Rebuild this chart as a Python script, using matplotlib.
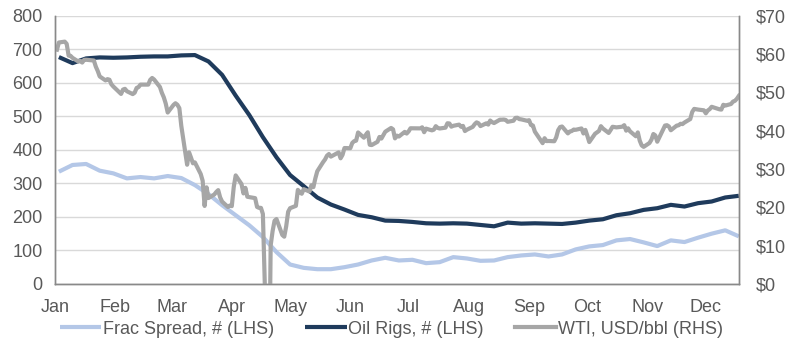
import numpy as np
import pandas as pd
import matplotlib
matplotlib.use("Agg")
import matplotlib.pyplot as plt
from matplotlib.ticker import FuncFormatter

# weekly counts (Fridays)
week_start = "2020-01-03"
n_weeks = 51
oil_rigs = [677, 659, 673, 676, 675, 676, 678, 679, 679, 682, 683, 664, 624,
            562, 504, 438, 378, 325, 292, 258, 237, 222, 206, 199, 189, 188,
            185, 181, 180, 181, 180, 176, 172, 183, 180, 181, 180, 179, 183,
            189, 193, 205, 211, 221, 226, 236, 231, 241, 246, 258, 263]
frac_spread = [335, 355, 358, 338, 330, 315, 319, 315, 322, 316, 295, 268, 235,
               205, 175, 140, 95, 58, 48, 44, 44, 50, 58, 70, 78, 70,
               72, 62, 65, 80, 76, 69, 70, 80, 85, 88, 82, 88, 103,
               112, 116, 130, 134, 124, 113, 130, 125, 138, 150, 160, 142]

# daily WTI front month, USD/bbl
wti_start, wti_end = "2020-01-02", "2020-12-18"
market_holidays = ["2020-01-20", "2020-02-17", "2020-04-10", "2020-05-25",
                   "2020-07-03", "2020-09-07", "2020-11-26"]
wti = [
    # Jan
    61.18, 63.05, 63.27, 62.70, 59.61, 59.56, 59.04, 58.08, 58.23, 57.81, 58.52,
    58.54, 58.34, 56.74, 55.59, 54.19, 53.14, 53.48, 53.33, 52.14, 51.56,
    # Feb
    50.11, 49.61, 50.75, 50.95, 50.32, 49.57, 49.94, 51.17, 51.42, 52.05,
    52.05, 53.29, 53.78, 53.38, 51.43, 49.90, 48.73, 47.09, 44.76,
    # Mar
    46.75, 47.18, 46.78, 45.90, 41.28, 31.13, 34.36, 32.98, 31.50, 31.73,
    28.70, 26.95, 20.37, 25.22, 22.43, 23.36, 24.01, 24.49, 22.60, 21.51,
    20.09, 20.48,
    # Apr
    20.31, 25.32, 28.34, 26.08, 23.63, 25.09, 22.76, 22.41, 20.11, 19.87,
    19.87, 18.27, -37.63, 10.01, 13.78, 16.50, 16.94, 12.78, 12.34, 15.06,
    18.84,
    # May
    19.78, 20.39, 24.56, 23.99, 23.55, 24.74, 24.14, 25.78, 25.29, 27.56,
    29.43, 31.82, 32.50, 33.49, 33.92, 33.25, 34.35, 32.81, 33.71, 35.49,
    # Jun
    35.44, 36.81, 37.29, 37.41, 39.55, 38.19, 38.94, 39.60, 36.34, 36.26,
    37.12, 38.38, 37.96, 38.84, 39.75, 40.73, 40.37, 38.01, 38.72, 38.49,
    39.70, 39.27,
    # Jul
    39.82, 40.65, 40.63, 40.62, 40.90, 39.62, 40.55, 40.10, 40.29, 41.20,
    40.75, 40.59, 40.81, 41.96, 41.90, 41.07, 41.29, 41.60, 41.04, 41.27,
    39.92, 40.27,
    # Aug
    41.01, 41.70, 42.19, 41.95, 41.22, 41.94, 41.61, 42.67, 42.24, 42.01,
    42.89, 42.89, 42.93, 42.82, 42.34, 42.62, 43.35, 43.39, 43.04, 42.97,
    42.61,
    # Sep
    42.76, 41.51, 41.37, 39.77, 36.76, 38.05, 37.30, 37.33, 37.26, 38.28,
    40.16, 40.97, 41.11, 39.31, 39.80, 39.93, 40.31, 40.25, 40.60, 39.29,
    40.22,
    # Oct
    38.72, 37.05, 39.22, 39.57, 39.95, 41.19, 40.60, 39.43, 40.20, 41.04,
    40.96, 40.88, 41.06, 41.46, 40.03, 40.64, 39.85, 38.56, 39.57, 37.39,
    36.17, 35.79,
    # Nov
    36.81, 37.66, 39.15, 38.79, 37.14, 40.29, 41.36, 41.45, 41.12, 40.13,
    41.34, 41.43, 41.82, 41.74, 42.15, 43.06, 44.91, 45.71, 45.53, 45.34,
    # Dec
    44.55, 45.28, 45.64, 46.26, 45.76, 45.60, 45.52, 46.78, 46.57, 46.99,
    47.62, 47.82, 48.36, 49.10,
]

month_labels = ["Jan", "Feb", "Mar", "Apr", "May", "Jun",
                "Jul", "Aug", "Sep", "Oct", "Nov", "Dec"]

weeks = pd.date_range(week_start, periods=n_weeks, freq="W-FRI")
days = pd.bdate_range(wti_start, wti_end)
days = days[~days.isin(pd.to_datetime(market_holidays))]

plt.rcParams["font.family"] = ["Liberation Sans", "DejaVu Sans"]
txt_color = "#595959"
fs = 13

fig = plt.figure(figsize=(7.86, 3.45), dpi=100)
ax = fig.add_axes([0.070, 0.177, 0.870, 0.777])
ax2 = ax.twinx()

l1, = ax.plot(weeks, frac_spread, color="#b4c7e7", lw=3, solid_capstyle="butt",
              label="Frac Spread, # (LHS)")
l2, = ax.plot(weeks, oil_rigs, color="#1f3b5c", lw=3, solid_capstyle="butt",
              label="Oil Rigs, # (LHS)")
l3, = ax2.plot(days, wti, color="#a6a6a6", lw=3, solid_joinstyle="round",
               label="WTI, USD/bbl (RHS)")

ax.set_ylim(0, 800)
ax.set_yticks(np.arange(0, 801, 100))
ax2.set_ylim(0, 70)
ax2.set_yticks(np.arange(0, 71, 10))
ax2.yaxis.set_major_formatter(FuncFormatter(lambda v, p: f"${v:.0f}"))

ax.set_xlim(pd.Timestamp("2020-01-01"), pd.Timestamp(wti_end))
ax.set_xticks(pd.date_range("2020-01-01", periods=12, freq="MS"))
ax.set_xticklabels(month_labels)

ax.grid(axis="y", color="#d9d9d9", lw=1)
ax.set_axisbelow(True)

for a in (ax, ax2):
    a.spines["top"].set_visible(False)
    for s in ("left", "right", "bottom"):
        a.spines[s].set_color("#898989")
        a.spines[s].set_linewidth(1)
    a.tick_params(length=0, labelsize=fs, colors=txt_color)
ax.tick_params(axis="y", pad=9)
ax.tick_params(axis="x", pad=11)
ax2.tick_params(axis="y", pad=12)

fig.legend(handles=[l1, l2, l3], loc="center", bbox_to_anchor=(0.498, 0.046),
           ncol=3, frameon=False, fontsize=fs, handlelength=2.3,
           handletextpad=0.1, columnspacing=1.7, labelcolor=txt_color,
           borderpad=0)

fig.savefig("out.png", dpi=100)
